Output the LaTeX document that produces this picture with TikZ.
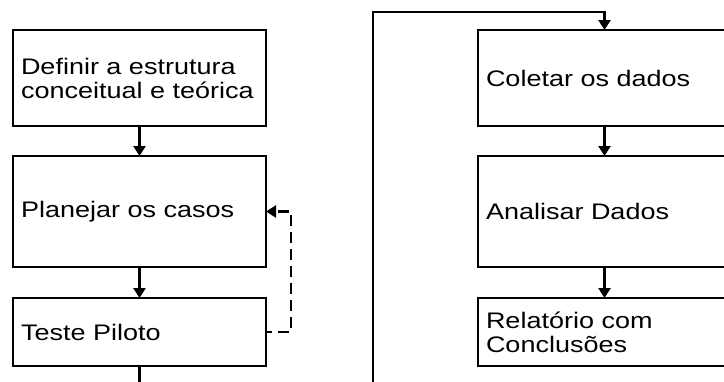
\documentclass[tikz,border=0pt]{standalone}
\usepackage{fontspec}
\setmainfont[FakeStretch=1.2]{Liberation Sans}
\usetikzlibrary{arrows.meta}

\tikzset{
  stepbox/.style={draw, line width=2.4pt, anchor=north west, outer sep=0pt,
    inner xsep=8pt, text width=237pt, align=left,
    font=\fontsize{22.5}{24}\selectfont},
  flow/.style={line width=2.4pt, -{Triangle[width=12pt,length=10pt]}},
}

\begin{document}
\begin{tikzpicture}[x=1pt,y=-1pt]
  \useasboundingbox (0,0) rectangle (724,381);
  \clip (0,0) rectangle (724,381);

  %% left column
  \node[stepbox, minimum height=96pt]  (estrutura) at (13,30)  {Definir a estrutura\\conceitual e teórica};
  \node[stepbox, minimum height=111pt] (planejar)  at (13,156) {Planejar os casos};
  \node[stepbox, minimum height=68pt]  (piloto)    at (13,298) {Teste Piloto};

  %% right column
  \node[stepbox, minimum height=96pt]  (coletar)   at (478,30)  {Coletar os dados};
  \node[stepbox, minimum height=111pt] (analisar)  at (478,156) {Analisar Dados};
  \node[stepbox, minimum height=68pt]  (relatorio) at (478,298) {Relatório com\\Conclusões};

  %% return line round the bottom and over the top
  \coordinate (low)  at (373,400);
  \coordinate (high) at (373,12);

  \draw[flow] (estrutura) -- (planejar);
  \draw[flow] (planejar) -- (piloto);
  \draw[flow, dash pattern=on 11pt off 6pt, dash phase=-12pt] (piloto.east) -- ++(25,0) |- (planejar.east);
  \draw[flow] (piloto.south) |- (low) -- (high) -| (coletar.north);
  \draw[flow] (coletar) -- (analisar);
  \draw[flow] (analisar) -- (relatorio);
\end{tikzpicture}
\end{document}
